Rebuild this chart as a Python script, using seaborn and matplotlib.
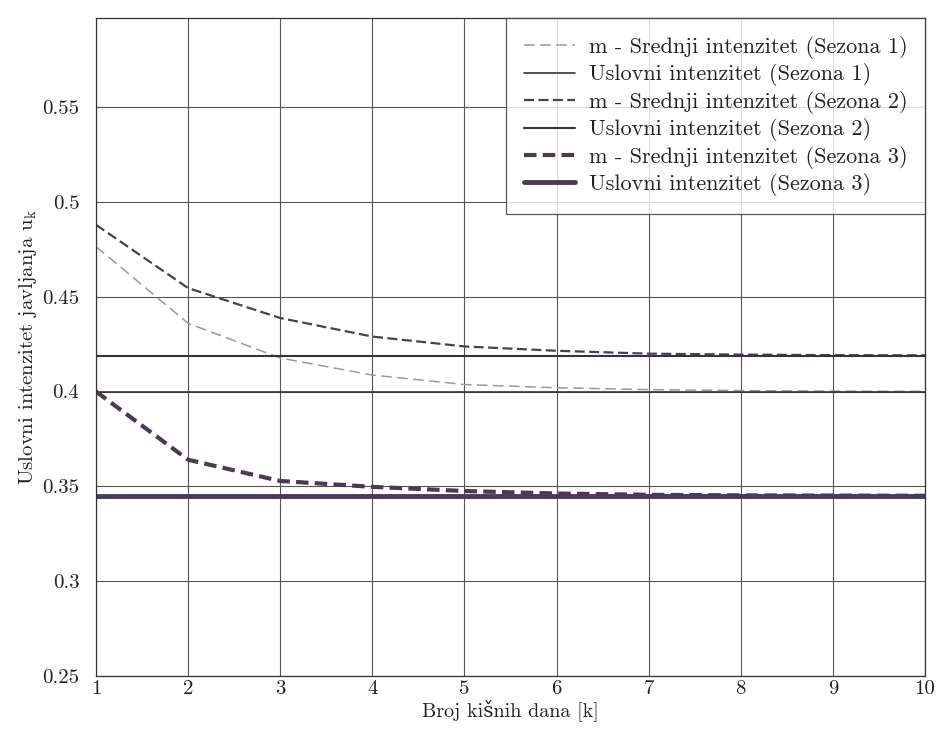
import matplotlib
matplotlib.use("Agg")
import matplotlib.pyplot as plt
import seaborn as sns
import pandas as pd

k = [1, 2, 3, 4, 5, 6, 7, 8, 9, 10]
sr_s1 = [0.4765, 0.436, 0.4177, 0.4087, 0.4037, 0.4020, 0.4010, 0.4005, 0.4002, 0.4001]
usl_s1 = [0.400] * 10
sr_s2 = [0.488, 0.4546, 0.4388, 0.4290, 0.4238, 0.4215, 0.4200, 0.4195, 0.4192, 0.4191]
usl_s2 = [0.419] * 10
sr_s3 = [0.400, 0.364, 0.3528, 0.3497, 0.3475, 0.3462, 0.3455, 0.3452, 0.3451, 0.3450]
usl_s3 = [0.345] * 10

labels = [
    "m - Srednji intenzitet (Sezona 1)",
    "Uslovni intenzitet (Sezona 1)",
    "m - Srednji intenzitet (Sezona 2)",
    "Uslovni intenzitet (Sezona 2)",
    "m - Srednji intenzitet (Sezona 3)",
    "Uslovni intenzitet (Sezona 3)",
]
yticks = [0.25, 0.3, 0.35, 0.4, 0.45, 0.5, 0.55]
ytick_labels = ["0.25", "0.3", "0.35", "0.4", "0.45", "0.5", "0.55"]
xlabel = "Broj kišnih dana [k]"
ylabel = "Uslovni intenzitet javljanja $\\mathregular{u_k}$"

sns.set_theme(style="white")
plt.rcParams["font.family"] = ["cmr10", "DejaVu Serif"]
plt.rcParams["mathtext.fontset"] = "cm"
plt.rcParams["axes.formatter.use_mathtext"] = True

fig = plt.figure(figsize=(9.41, 7.29), dpi=100)
ax = fig.add_axes([0.102, 0.073, 0.881, 0.902])

series = [sr_s1, usl_s1, sr_s2, usl_s2, sr_s3, usl_s3]
styles = [
    dict(color="#9a9a9a", lw=1.1, ls=(0, (7, 3.5))),
    dict(color="#3a3040", lw=1.2, ls="-"),
    dict(color="#4a4050", lw=1.6, ls=(0, (4.5, 2))),
    dict(color="#3a3040", lw=1.5, ls="-"),
    dict(color="#4a3a52", lw=3.0, ls=(0, (3, 1.5))),
    dict(color="#4a3a52", lw=3.5, ls="-"),
]
for vals, lab, st in zip(series, labels, styles):
    df = pd.DataFrame({"k": k, "v": vals})
    sns.lineplot(data=df, x="k", y="v", ax=ax, label=lab, color=st["color"],
                 linewidth=st["lw"], linestyle=st["ls"])

ax.set_xlim(1, 10)
ax.set_ylim(0.25, 0.597)
ax.set_xticks(k)
ax.set_xticklabels([str(i) for i in k])
ax.set_yticks(yticks)
ax.set_yticklabels(ytick_labels)
ax.grid(True, color="#555555", linewidth=0.8)
ax.set_axisbelow(True)
for s in ax.spines.values():
    s.set_color("#333333")
    s.set_linewidth(0.9)
ax.tick_params(axis="y", labelsize=15, colors="#222222", length=0, pad=12)
ax.tick_params(axis="x", labelsize=15, colors="#222222", length=0, pad=3)
ax.set_xlabel(xlabel, fontsize=14.5, labelpad=1, color="#222222")
ax.set_ylabel(ylabel, fontsize=15, labelpad=2, color="#222222")

leg = ax.legend(loc="upper right", borderaxespad=0, fontsize=16, frameon=True,
                fancybox=False, handlelength=2.3, labelspacing=0.2,
                borderpad=0.8, handletextpad=0.6)
leg.get_frame().set_edgecolor("#333333")
leg.get_frame().set_linewidth(0.9)
for t in leg.get_texts():
    t.set_color("#222222")

fig.savefig("out.png", dpi=100)
